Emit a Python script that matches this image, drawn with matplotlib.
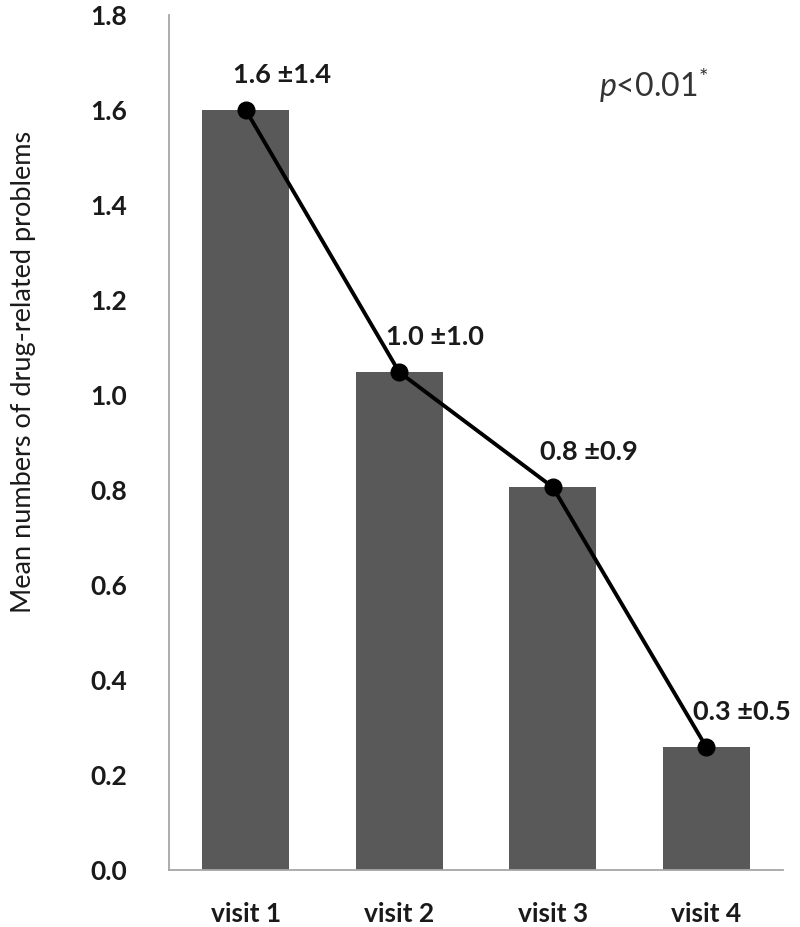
import matplotlib
matplotlib.use("Agg")
import matplotlib.pyplot as plt
import numpy as np

# data
visits = ["visit 1", "visit 2", "visit 3", "visit 4"]
means = [1.60, 1.048, 0.806, 0.259]
labels = ["1.6 \u00b11.4", "1.0 \u00b11.0", "0.8 \u00b10.9", "0.3 \u00b10.5"]
yticks = [0.0, 0.2, 0.4, 0.6, 0.8, 1.0, 1.2, 1.4, 1.6, 1.8]

plt.rcParams["font.family"] = ["Lato", "DejaVu Sans"]
plt.rcParams["mathtext.fontset"] = "custom"
plt.rcParams["mathtext.rm"] = "Lato"
plt.rcParams["mathtext.it"] = "Lato:italic"

fig = plt.figure(figsize=(8, 9.27), dpi=100)
ax = fig.add_axes([0.21125, 0.0615, 0.7675, 0.9223])

x = np.arange(len(visits))
ax.bar(x, means, width=0.567, color="#595959", zorder=2)
ax.plot(x, means, color="black", lw=2.8, marker="o", markersize=12, zorder=3)

# value +/- sd labels, up and to the right of each point
for xi, yi, lab in zip(x, means, labels):
    ax.annotate(lab, (xi, yi), xytext=(26, 25), textcoords="offset points",
                ha="center", va="center", fontsize=19.5, fontweight="bold",
                color="#1a1a1a", zorder=4)

ax.set_xlim(-0.5, 3.5)
ax.set_ylim(0, 1.8)
ax.set_xticks(x)
ax.set_xticklabels(visits, fontsize=19, fontweight="bold", color="#1a1a1a")
ax.set_yticks(yticks)
ax.set_yticklabels([f"{t:.1f}" for t in yticks], fontsize=19,
                   fontweight="bold", color="#1a1a1a")
ax.tick_params(axis="both", length=0)
ax.tick_params(axis="y", pad=30)
ax.tick_params(axis="x", pad=23)

for side in ["top", "right"]:
    ax.spines[side].set_visible(False)
for side in ["left", "bottom"]:
    ax.spines[side].set_color("#a6a6a6")
    ax.spines[side].set_linewidth(1.3)

ax.text(0.70, 0.918, r"$\it{p}$<0.01$^{*}$", transform=ax.transAxes,
        fontsize=23, color="#333333", ha="left", va="center")

fig.text(0.03, 1 - 372 / 927, "Mean numbers of drug-related problems",
         rotation=90, ha="center", va="center", fontsize=19.5, color="#1a1a1a")

fig.savefig("out.png", dpi=100)
